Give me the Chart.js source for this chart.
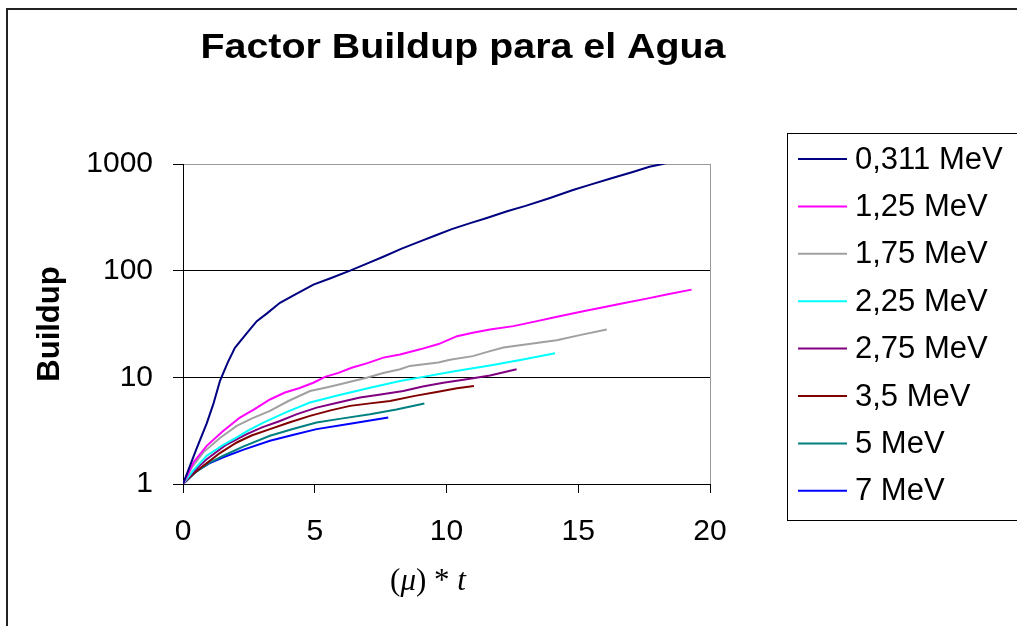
<!DOCTYPE html>
<html>
<head>
<meta charset="utf-8">
<script src="https://cdn.jsdelivr.net/npm/chart.js@4/dist/chart.umd.min.js"></script>
<style>
  body { margin: 0; background: #fff; }
  canvas { display: block; }
</style>
</head>
<body>
<canvas id="buildupChart" width="1017" height="626"></canvas>
<script>
// === DATA ===
const energies = ["0,311 MeV", "1,25 MeV", "1,75 MeV", "2,25 MeV", "2,75 MeV", "3,5 MeV", "5 MeV", "7 MeV"];
const colors = ["#000080", "#FF00FF", "#A0A0A0", "#00FFFF", "#800080", "#800000", "#008080", "#0000FF"];

const x0311 = [0, 0.5, 0.9, 1.15, 1.4, 1.7, 1.97, 2.4, 2.8, 3.2, 3.68, 4.3, 4.95, 5.6, 6.34, 7.0, 7.6, 8.3, 9.0, 9.6, 10.2, 10.9, 11.5, 12.3, 13.0, 13.9, 14.8, 15.4, 16.2, 17.1, 17.7, 18.2, 18.6];
const y0311 = [1, 2.1, 3.7, 5.6, 9.2, 13.8, 18.9, 25.5, 33.6, 40, 50, 60.5, 74, 85, 100, 117, 135, 161, 188, 215, 245, 279, 310, 360, 405, 478, 571, 634, 728, 847, 942, 1000, 1070];

const x125 = [0, 0.4, 0.9, 1.5, 2.16, 2.7, 3.3, 3.87, 4.4, 4.95, 5.39, 5.9, 6.4, 7.0, 7.6, 8.24, 9.0, 9.7, 10.4, 11.0, 11.65, 12.54, 13.3, 14.2, 15.19, 16.0, 16.8, 17.6, 18.4, 19.3];
const y125 = [1, 1.6, 2.28, 3.1, 4.2, 5.0, 6.2, 7.2, 7.9, 8.9, 10.1, 11.0, 12.3, 13.6, 15.3, 16.4, 18.3, 20.5, 24.3, 26.2, 28.1, 30.2, 33.1, 37.0, 41.7, 45.7, 50, 54.7, 60, 66.4];

const x175 = [0, 0.35, 0.77, 1.4, 2.04, 2.6, 3.3, 4.0, 4.82, 5.4, 5.96, 6.97, 7.6, 8.24, 8.61, 9.69, 10.13, 11.0, 11.65, 12.16, 13.2, 14.18, 15.1, 16.08];
const y175 = [1, 1.45, 1.98, 2.7, 3.5, 4.1, 4.84, 6.0, 7.45, 8.0, 8.6, 9.9, 11.0, 11.9, 12.8, 13.8, 14.6, 15.8, 17.6, 19.0, 20.6, 22.3, 25.0, 28.1];

const x225 = [0, 0.4, 0.9, 1.5, 2.04, 2.5, 3.05, 3.9, 4.82, 5.9, 7.1, 8.24, 9.12, 10.3, 11.65, 12.9, 14.12];
const y225 = [1, 1.35, 1.84, 2.3, 2.73, 3.2, 3.77, 4.7, 5.8, 6.8, 8.0, 9.24, 10.1, 11.4, 12.9, 14.7, 16.8];

const x275 = [0, 0.4, 0.9, 1.6, 2.42, 3.0, 3.68, 4.3, 5.07, 5.9, 6.72, 7.5, 8.36, 9.1, 9.88, 10.77, 11.65, 12.66];
const y275 = [1, 1.3, 1.71, 2.3, 2.93, 3.4, 3.9, 4.5, 5.2, 5.8, 6.46, 6.9, 7.45, 8.2, 8.9, 9.6, 10.4, 11.9];

const x35 = [0, 0.35, 0.77, 1.4, 2.04, 2.6, 3.3, 4.0, 4.82, 5.6, 6.34, 7.1, 7.86, 8.8, 9.63, 10.4, 11.04];
const y35 = [1, 1.22, 1.48, 1.95, 2.45, 2.85, 3.27, 3.75, 4.35, 4.9, 5.4, 5.7, 6.0, 6.7, 7.3, 7.9, 8.3];

const x5 = [0, 0.5, 1.0, 1.53, 2.3, 3.3, 4.2, 5.07, 6.0, 7.1, 8.1, 9.16];
const y5 = [1, 1.3, 1.58, 1.84, 2.25, 2.83, 3.3, 3.77, 4.1, 4.51, 5.0, 5.68];

const x7 = [0, 0.52, 1.0, 1.53, 2.3, 3.3, 4.2, 5.07, 6.4, 7.79];
const y7 = [1, 1.33, 1.56, 1.78, 2.1, 2.54, 2.9, 3.27, 3.7, 4.2];

const xSeries = [x0311, x125, x175, x225, x275, x35, x5, x7];
const ySeries = [y0311, y125, y175, y225, y275, y35, y5, y7];

const yTickValues = [1, 10, 100, 1000];
const xTickStep = 5;

const chartTitle = "Factor Buildup para el Agua";
const yTitle = "Buildup";

// === DECORATIONS (title, legend, frame, x title) ===
const decorations = {
    id: "decorations",
    afterDraw(chart) {
        const ctx = chart.ctx;
        ctx.save();

        // outer frame
        ctx.strokeStyle = "#222";
        ctx.lineWidth = 2;
        ctx.strokeRect(7, 9, 1100, 700);

        // title, a little wider than normal like the original
        ctx.fillStyle = "#000";
        ctx.font = "bold 35px 'Liberation Sans', Arial, sans-serif";
        ctx.textAlign = "center";
        ctx.textBaseline = "middle";
        const tw = ctx.measureText(chartTitle).width;
        ctx.save();
        ctx.translate(463, 48);
        ctx.scale(525 / tw, 1);
        ctx.fillText(chartTitle, 0, 0);
        ctx.restore();

        // x axis title: (μ) * t
        const parts = [["(", ""], ["μ", "italic "], [")", ""], [" * ", ""], ["t", "italic "]];
        const fontFor = s => s + "31px 'Liberation Serif', 'Times New Roman', serif";
        let total = 0;
        parts.forEach(p => { ctx.font = fontFor(p[1]); total += ctx.measureText(p[0]).width; });
        let px = 428 - total / 2;
        ctx.textAlign = "left";
        ctx.textBaseline = "alphabetic";
        parts.forEach(p => {
            ctx.font = fontFor(p[1]);
            ctx.fillText(p[0], px, 590);
            px += ctx.measureText(p[0]).width;
        });

        // legend
        ctx.strokeStyle = "#000";
        ctx.lineWidth = 1;
        ctx.strokeRect(787.5, 133.5, 400, 387);
        ctx.font = "31px 'Liberation Sans', Arial, sans-serif";
        ctx.textBaseline = "middle";
        chart.data.datasets.forEach((ds, i) => {
            const y = 159 + i * 47.4;
            ctx.strokeStyle = ds.borderColor;
            ctx.lineWidth = 2;
            ctx.beginPath();
            ctx.moveTo(798, y);
            ctx.lineTo(847, y);
            ctx.stroke();
            ctx.fillStyle = "#000";
            ctx.fillText(ds.label, 855, y + 1);
        });
        ctx.restore();
    }
};

// === CHART ===
new Chart(document.getElementById("buildupChart"), {
    type: "line",
    data: {
        datasets: energies.map((label, i) => ({
            label: label,
            data: xSeries[i].map((x, j) => ({ x: x, y: ySeries[i][j] })),
            borderColor: colors[i],
            backgroundColor: colors[i],
            borderWidth: 2,
            pointRadius: 0,
            tension: 0,
            fill: false
        }))
    },
    options: {
        responsive: false,
        animation: false,
        devicePixelRatio: 1,
        layout: { padding: { left: 20, right: 307, top: 164, bottom: 20 } },
        plugins: {
            legend: { display: false },
            tooltip: { enabled: false },
            title: { display: false }
        },
        scales: {
            x: {
                type: "linear",
                min: 0,
                max: 20,
                afterFit: scale => { scale.height = 626 - 484 - 20; },
                ticks: {
                    stepSize: xTickStep,
                    color: "#000",
                    padding: 21,
                    font: { family: "'Liberation Sans', Arial, sans-serif", size: 30 }
                },
                grid: {
                    color: c => c.tick && c.tick.value === 20 ? "#999" : "rgba(0,0,0,0)",
                    tickColor: "#000",
                    tickLength: 9,
                    lineWidth: 1
                },
                border: { color: "#000", width: 1 }
            },
            y: {
                type: "logarithmic",
                min: 1,
                max: 1000,
                afterFit: scale => { scale.width = 183 - 20; },
                afterBuildTicks: scale => { scale.ticks = yTickValues.map(v => ({ value: v })); },
                ticks: {
                    color: "#000",
                    padding: 20,
                    autoSkip: false,
                    callback: v => String(v),
                    font: { family: "'Liberation Sans', Arial, sans-serif", size: 30 }
                },
                grid: {
                    color: c => c.tick && c.tick.value === 1000 ? "#999" : "#000",
                    tickColor: "#000",
                    tickLength: 10,
                    lineWidth: 1
                },
                border: { color: "#000", width: 1 },
                title: {
                    display: true,
                    text: yTitle,
                    color: "#000",
                    padding: { top: 12, bottom: 0 },
                    font: { family: "'Liberation Sans', Arial, sans-serif", size: 31, weight: "bold" }
                }
            }
        }
    },
    plugins: [decorations]
});
</script>
</body>
</html>
